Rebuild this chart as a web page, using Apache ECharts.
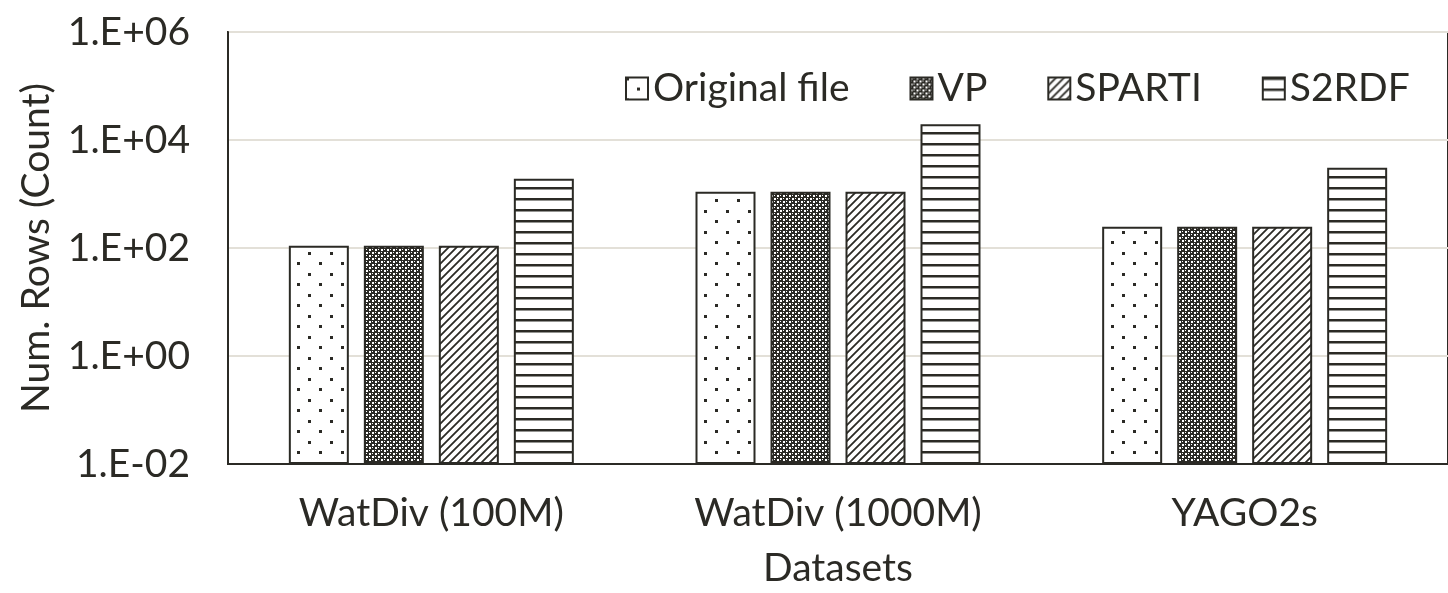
<!DOCTYPE html>
<html>
<head>
<meta charset="utf-8">
<script src="https://cdn.jsdelivr.net/npm/echarts@6/dist/echarts.min.js"></script>
<style>html,body{margin:0;padding:0;background:#fff}#c{width:1448px;height:593px}</style>
</head>
<body>
<div id="c"></div>
<script>
const categories = ['WatDiv (100M)', 'WatDiv (1000M)', 'YAGO2s'];
const seriesNames = ['Original file', 'VP', 'SPARTI', 'S2RDF'];
const originalFile = [110, 1100, 247];
const vp = [110, 1100, 247];
const sparti = [110, 1100, 247];
const s2rdf = [1920, 19600, 3050];
const yMin = 0.01, yMax = 1e6;

const INK = '#2b2a25';
const FONT = 'Lato';

function tile(w, h, draw) {
  const c = document.createElement('canvas');
  c.width = w; c.height = h;
  const g = c.getContext('2d');
  g.fillStyle = '#fff'; g.fillRect(0, 0, w, h);
  g.fillStyle = INK; g.strokeStyle = INK;
  draw(g);
  return { image: c, repeat: 'repeat' };
}
const patDots = tile(22, 21, g => { g.fillRect(0, 0, 3, 3); g.fillRect(11, 10, 3, 3); });
const patVP = tile(6, 6, g => {
  g.fillRect(0, 0, 6, 6);
  g.fillStyle = '#fff';
  g.fillRect(0, 0, 2, 2); g.fillRect(3, 3, 2, 2); g.fillRect(0, 3, 1, 1); g.fillRect(3, 0, 1, 1);
});
const patDiag = tile(8, 8, g => {
  g.lineWidth = 1.8;
  g.beginPath();
  g.moveTo(-1, 9); g.lineTo(9, -1);
  g.moveTo(-2, 2); g.lineTo(2, -2);
  g.moveTo(6, 10); g.lineTo(10, 6);
  g.stroke();
});
const patHoriz = tile(4, 11, g => { g.fillRect(0, 0, 4, 2.5); });
const patterns = [patDots, patVP, patDiag, patHoriz];
const values = [originalFile, vp, sparti, s2rdf];

function fmt(v) {
  const e = Math.round(Math.log10(v));
  const a = Math.abs(e);
  return '1.E' + (e < 0 ? '-' : '+') + (a < 10 ? '0' + a : a);
}

const series = [];
seriesNames.forEach((n, i) => {
  // invisible base so bars rise from the axis minimum on the log scale
  series.push({
    name: '_base' + i, type: 'bar', stack: 's' + i, silent: true,
    data: categories.map(() => yMin), barWidth: 60, barGap: '25%',
    itemStyle: { color: 'rgba(0,0,0,0)', borderWidth: 0 }
  });
  series.push({
    name: n, type: 'bar', stack: 's' + i, data: values[i],
    barWidth: 60, barGap: '25%',
    itemStyle: { color: patterns[i], borderColor: INK, borderWidth: 2 }
  });
});

const chart = echarts.init(document.getElementById('c'), null, { renderer: 'canvas' });
chart.setOption({
  animation: false,
  backgroundColor: '#fff',
  textStyle: { fontFamily: FONT, color: INK },
  grid: { left: 228, top: 32, bottom: 121, right: -19, show: true, borderColor: INK, borderWidth: 2, containLabel: false },
  legend: {
    left: 620, top: 64, itemWidth: 22, itemHeight: 22, itemGap: 60, icon: 'rect',
    textStyle: { fontFamily: FONT, fontSize: 39, color: INK },
    data: seriesNames
  },
  xAxis: {
    type: 'category', data: categories,
    name: 'Datasets', nameLocation: 'middle', nameGap: 85,
    nameTextStyle: { fontFamily: FONT, fontSize: 39, color: INK },
    axisLine: { lineStyle: { color: INK, width: 2 } },
    axisTick: { show: false },
    axisLabel: { fontFamily: FONT, fontSize: 39, color: INK, margin: 30 },
    splitLine: { show: false }
  },
  yAxis: {
    type: 'log', logBase: 10, min: yMin, max: yMax, interval: 2,
    name: 'Num. Rows (Count)', nameLocation: 'middle', nameGap: 172, nameRotate: 90,
    nameTextStyle: { fontFamily: FONT, fontSize: 39, color: INK },
    axisLine: { show: true, lineStyle: { color: INK, width: 2 } },
    axisTick: { show: false },
    axisLabel: { fontFamily: FONT, fontSize: 39, color: INK, margin: 38, formatter: fmt },
    splitLine: { show: true, lineStyle: { color: '#e3e0d8', width: 2 } }
  },
  series: series
});
</script>
</body>
</html>
